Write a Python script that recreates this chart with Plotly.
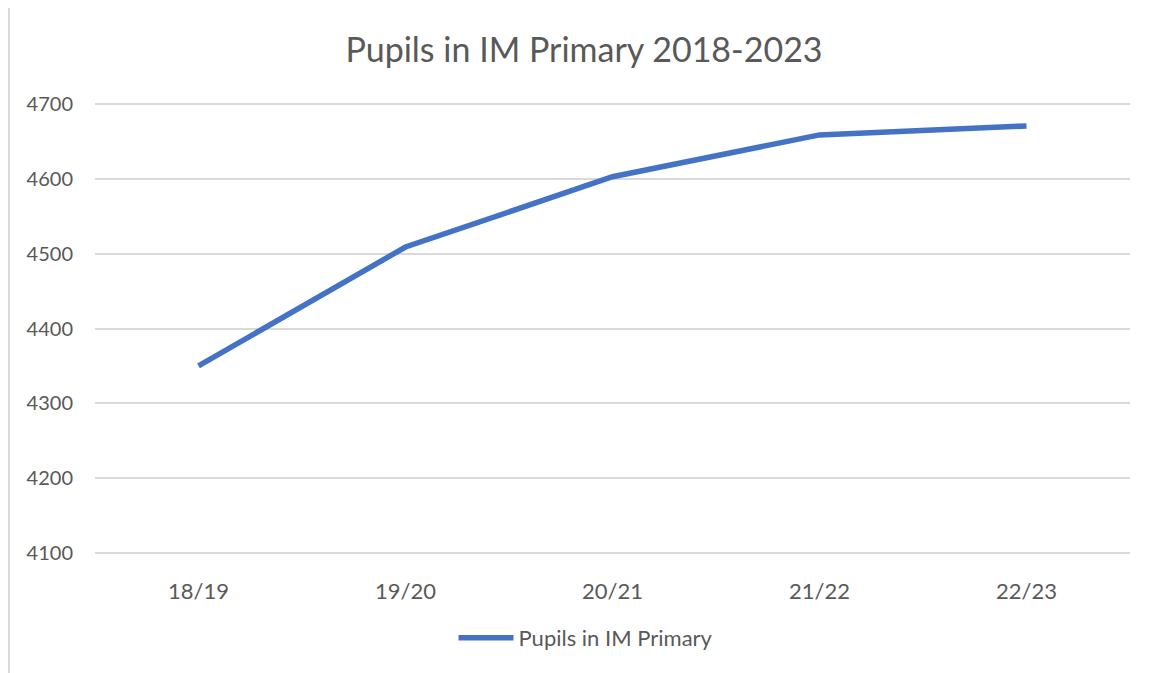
import plotly.graph_objects as go

years = ["18/19", "19/20", "20/21", "21/22", "22/23"]
pupils = [4350, 4509, 4603, 4659, 4671]
y_ticks = [4100, 4200, 4300, 4400, 4500, 4600, 4700]

FONT = "Lato"
TXT = "#595959"

W, H = 1143, 665
L, R, T, B = 87, 21, 94, 118
PW, PH = W - L - R, H - T - B

fig = go.Figure()
fig.add_trace(go.Scatter(
    x=years, y=pupils, mode="lines", name="Pupils in IM Primary",
    line=dict(color="#4472C4", width=5.5),
))

fig.update_layout(
    width=W, height=H,
    margin=dict(l=L, r=R, t=T, b=B),
    paper_bgcolor="white", plot_bgcolor="white",
    font=dict(family=FONT, color=TXT, size=19),
    title=dict(text="Pupils in IM Primary 2018-2023", x=576 / W, xanchor="center",
               y=1 - 42 / H, yanchor="middle", yref="container",
               font=dict(family=FONT, size=34, color=TXT)),
    showlegend=True,
    legend=dict(orientation="h", x=(578 - L) / PW, xanchor="center",
                y=(T + PH - 630) / PH, yanchor="middle",
                font=dict(family=FONT, size=22, color=TXT), itemwidth=55),
    xaxis=dict(type="category", range=[-0.5, 4.5], showgrid=False, zeroline=False,
               showline=False, ticks="", ticklabelstandoff=21,
               tickfont=dict(family=FONT, size=22, color=TXT)),
    yaxis=dict(range=[4097, 4703], tickvals=y_ticks, showgrid=True,
               gridcolor="#D9D9D9", gridwidth=1.5, zeroline=False, showline=False,
               ticks="", ticklabelstandoff=21,
               tickfont=dict(family=FONT, size=20, color=TXT)),
    shapes=[dict(type="line", xref="paper", yref="paper",
                 x0=(1 - L) / PW, x1=(1 - L) / PW,
                 y0=(T + PH - H) / PH, y1=(T + PH) / PH,
                 line=dict(color="#D9D9D9", width=2))],
)

fig.write_html("out.html")
